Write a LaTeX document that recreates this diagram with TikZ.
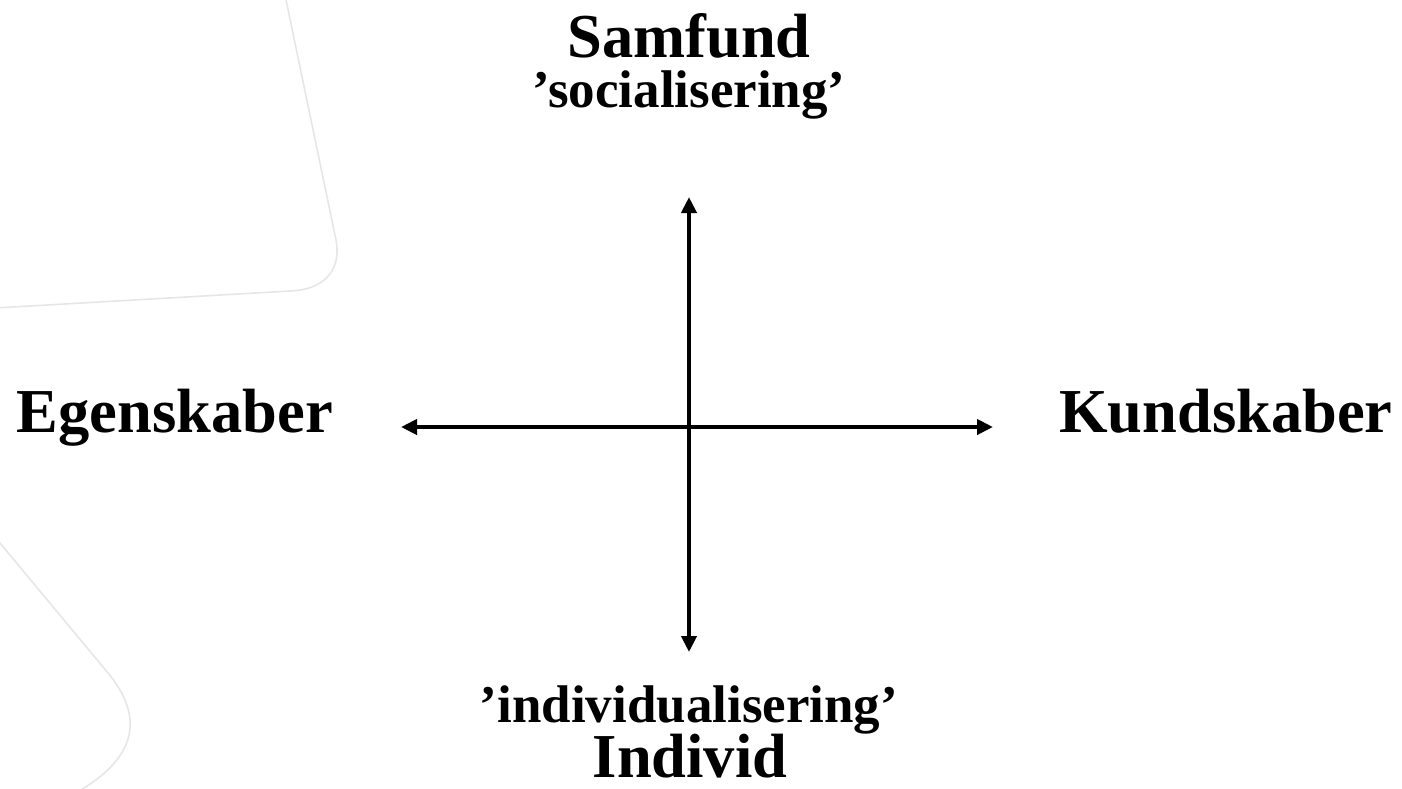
\documentclass[tikz,border=0pt]{standalone}
\usepackage{fontspec}
\setmainfont{Liberation Serif}
\usepackage{xcolor}
\usepackage{tikz}
\usetikzlibrary{arrows.meta}
\usetikzlibrary{calc}
\usetikzlibrary{positioning}

\definecolor{watermark}{HTML}{E6E6E6}

\begin{document}
\begin{tikzpicture}[x=1pt,y=-1pt,>={Triangle[length=16pt,width=15pt]},line width=4.5pt,node distance=8pt]
 				 \tikzstyle{big}=[inner sep=0pt,anchor=base,font=\bfseries\fontsize{62.5}{70}\selectfont]
 				 \tikzstyle{small}=[inner sep=0pt,anchor=base,font=\bfseries\fontsize{53}{60}\selectfont]
 				 \tikzstyle{deco}=[watermark,line width=1.6pt,line cap=round]
 				 \useasboundingbox (0,0) rectangle (1402,788);
 				 % slide background
 				 \draw[deco] (285,-5) -- (336,240) .. controls (342,272) and (322,290) .. (290,291) -- (-5,308);
 				 \draw[deco] (-5,537) -- (108,673) .. controls (142,714) and (142,757) .. (72,795);
 					 \coordinate (O) at (689,427);
 					 \coordinate (N) at (689,197);
 					 \coordinate (S) at (689,652);
 					 \coordinate (W) at (401,427);
 					 \coordinate (E) at (993,427);
 					 \node[big]   (samfund) at (689,57)  {Samfund};
 					 \node[small] (soc)     at (689,107) {'socialisering'};
 					 \node[big]   (egen)    at (175,432) {Egenskaber};
 					 \node[big]   (kund)    at (1226,432) {Kundskaber};
 					 \node[small] (ind)     at (689,722) {'individualisering'};
 					 \node[big]   (individ) at (690,777) {Individ};
 					
 					  \draw[<->] (W) -- (E);
 					  \draw[<->] (N) -- (S);
				\end{tikzpicture}
\end{document}
